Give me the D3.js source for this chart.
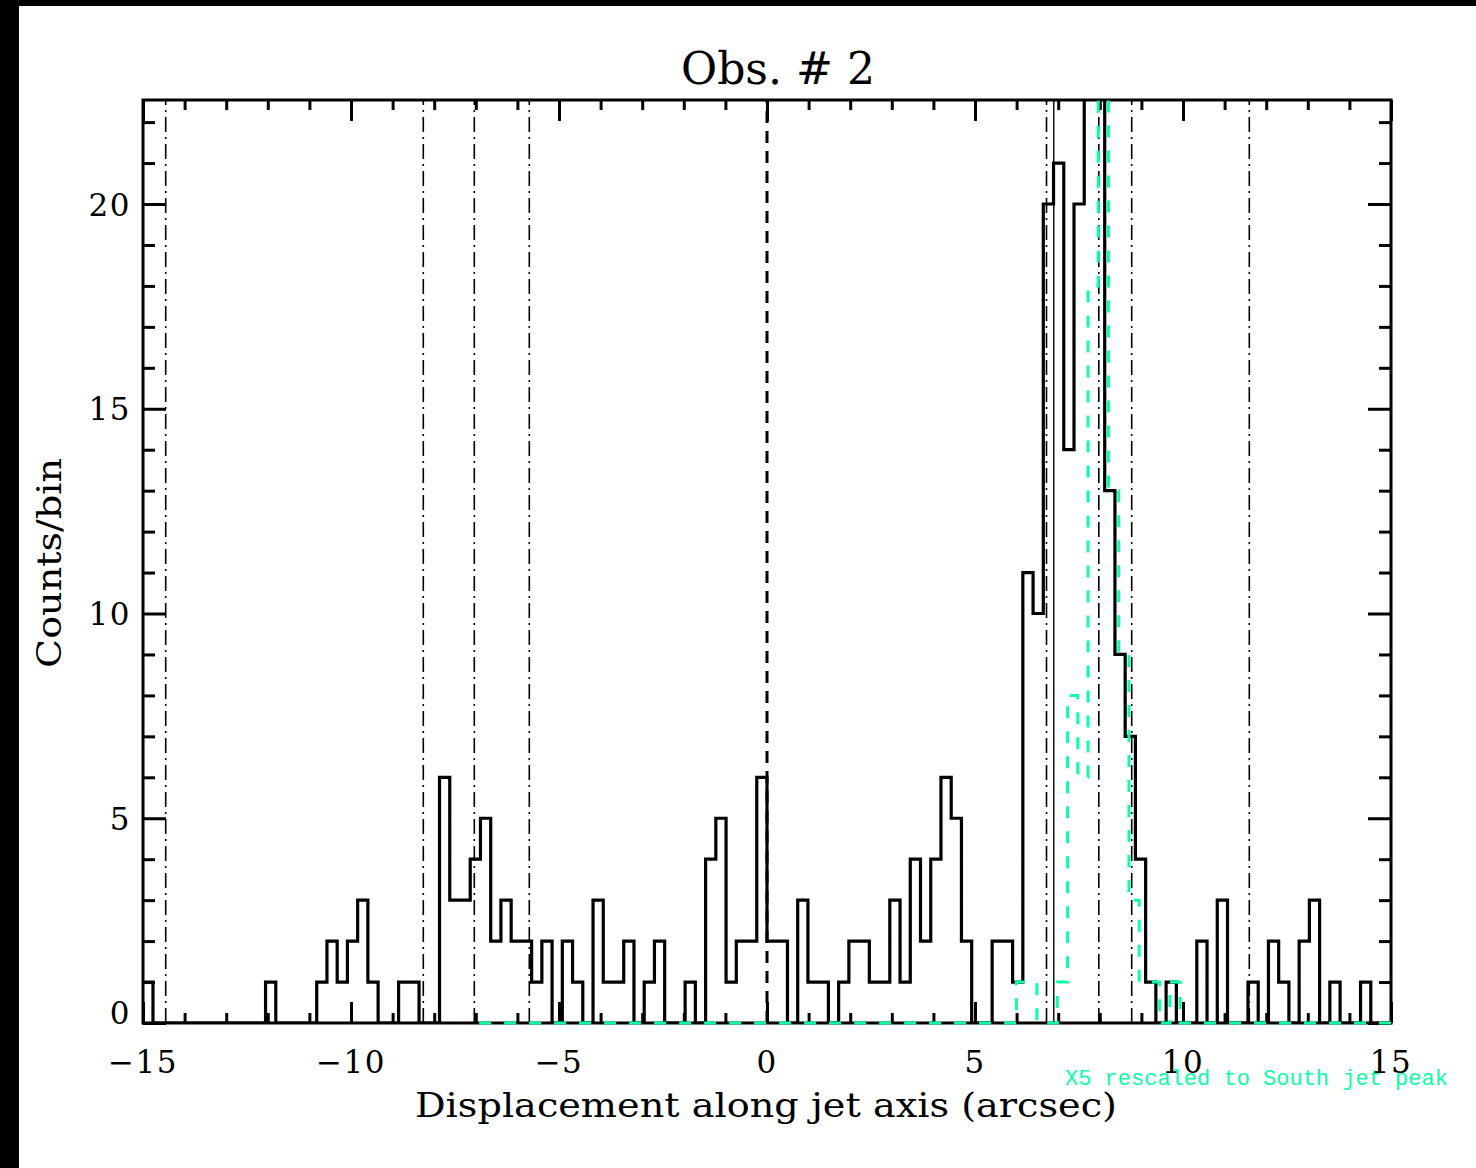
<!DOCTYPE html>
<html>
<head>
<meta charset="utf-8">
<script src="https://cdn.jsdelivr.net/npm/d3@7"></script>
<style>
  html, body { margin: 0; padding: 0; background: #fff; }
  svg { display: block; }
</style>
</head>
<body>
<svg id="chart" width="1476" height="1168"></svg>
<script>
// ---- data -------------------------------------------------------------
// Bin width along the jet axis (half an ACIS pixel), arcsec
const binWidth = 0.246;

// Observed counts per bin; first bin index (bin k spans [k*w, (k+1)*w])
const countsFirstBin = -61;
const counts = [
  1, 0, 0, 0, 0, 0, 0, 0, 0, 0, 0, 0,
  1, 0, 0, 0, 0, 1, 2, 1, 2, 3, 1, 0,
  0, 1, 1, 0, 0, 6, 3, 3, 4, 5, 2, 3,
  2, 2, 1, 2, 0, 2, 1, 0, 3, 1, 1, 2,
  0, 1, 2, 0, 0, 1, 0, 4, 5, 1, 2, 2,
  6, 2, 2, 0, 3, 1, 1, 0, 1, 2, 2, 1,
  1, 3, 1, 4, 2, 4, 6, 5, 2, 0, 0, 2,
  2, 1, 11, 10, 20, 21, 14, 20, 26, 24, 13, 9,
  7, 4, 1, 0, 1, 0, 0, 2, 0, 3, 0, 0,
  1, 0, 2, 1, 0, 2, 3, 0, 1, 0, 0, 1, 0, 0
];

// X5 profile rescaled to the South jet peak (own bin grid, shifted)
const modelFirstBin = -29;
const modelShift = 0.091;
const modelCounts = [
  0, 0, 0, 0, 0, 0, 0, 0, 0, 0, 0, 0, 0,
  0, 0, 0, 0, 0, 0, 0, 0, 0, 0, 0, 0, 0,
  0, 0, 0, 0, 0, 0, 0, 0, 0, 0, 0, 0, 0,
  0, 0, 0, 0, 0, 0, 0, 0, 0, 0, 0, 0, 0,
  0,
  1, 1, 0, 0, 1, 8, 6, 18, 25, 13, 9, 3, 1, 1, 0, 1,
  0, 0, 0, 0, 0, 0, 0, 0, 0, 0, 0,
  0, 0, 0, 0, 0, 0, 0, 0, 0, 0
];

// Reference positions along the axis (arcsec)
const coreLine = 0;
const knotLine = 6.894;
const markerLines = [-14.454, -8.262, -7.036, -5.714, 6.719, 7.976, 8.767, 11.594];

const xMajorTicks = [-15, -10, -5, 0, 5, 10, 15];
const xMinorTicks = [-14, -13, -12, -11, -9, -8, -7, -6, -4, -3, -2, -1,
                     1, 2, 3, 4, 6, 7, 8, 9, 11, 12, 13, 14];
const yMajorTicks = [0, 5, 10, 15, 20];
const yMinorTicks = [1, 2, 3, 4, 6, 7, 8, 9, 11, 12, 13, 14, 16, 17, 18, 19, 21, 22];

const titleText = "Obs. # 2";
const xLabel = "Displacement along jet axis (arcsec)";
const yLabel = "Counts/bin";
const modelLabel = "X5 rescaled to South jet peak";

// ---- layout -----------------------------------------------------------
const plot = { left: 143, top: 100, right: 1391, bottom: 1023 };
const green = "#0affa8";
const serif = "'DejaVu Serif', 'Liberation Serif', serif";

const svg = d3.select("#chart");

// dark edge strips of the page
svg.append("rect").attr("x", 0).attr("y", 0).attr("width", 19).attr("height", 1168).attr("fill", "#000");
svg.append("rect").attr("x", 0).attr("y", 0).attr("width", 1476).attr("height", 6).attr("fill", "#000");

const x = d3.scaleLinear().domain([-15, 15]).range([plot.left, plot.right]);
const y = d3.scaleLinear().domain([0, 22.54]).range([plot.bottom, plot.top]);

// clip to the plot box; the profile clip reaches slightly below so that
// runs along zero stay visible on top of the bottom axis
svg.append("clipPath").attr("id", "plotClip")
  .append("rect")
  .attr("x", plot.left).attr("y", plot.top)
  .attr("width", plot.right - plot.left).attr("height", plot.bottom - plot.top);
svg.append("clipPath").attr("id", "profileClip")
  .append("rect")
  .attr("x", plot.left).attr("y", plot.top)
  .attr("width", plot.right - plot.left).attr("height", plot.bottom - plot.top + 3);

const inner = svg.append("g").attr("clip-path", "url(#plotClip)");

// step outline in histogram mode: a horizontal run per bin, verticals at edges
function stepPoints(values, firstBin, shift, startAtCentre) {
  const pts = [];
  values.forEach((v, i) => {
    const lo = (firstBin + i) * binWidth + shift;
    const hi = lo + binWidth;
    const start = (i === 0 && startAtCentre) ? lo + binWidth / 2 : lo;
    pts.push([start, v]);
    pts.push([hi, v]);
  });
  return pts;
}

const line = d3.line().x(d => x(d[0])).y(d => y(d[1]));

// observed counts
inner.append("path")
  .attr("d", line(stepPoints(counts, countsFirstBin, 0, false)))
  .attr("fill", "none")
  .attr("stroke", "#000")
  .attr("stroke-width", 3.2)
  .attr("stroke-linejoin", "miter");

// dash-dot reference marks
inner.selectAll("line.marker")
  .data(markerLines)
  .join("line")
  .attr("class", "marker")
  .attr("x1", d => x(d)).attr("x2", d => x(d))
  .attr("y1", y(0)).attr("y2", y(22.54))
  .attr("stroke", "#000")
  .attr("stroke-width", 1.6)
  .attr("stroke-dasharray", "15,5,2,5");

// thin solid mark
inner.append("line")
  .attr("x1", x(knotLine)).attr("x2", x(knotLine))
  .attr("y1", y(0)).attr("y2", y(22.54))
  .attr("stroke", "#000")
  .attr("stroke-width", 1.4);

// core position
inner.append("line")
  .attr("x1", x(coreLine)).attr("x2", x(coreLine))
  .attr("y1", y(0)).attr("y2", y(22.54))
  .attr("stroke", "#000")
  .attr("stroke-width", 3)
  .attr("stroke-dasharray", "12,8");

// ---- axes (inward ticks on all four sides) ----------------------------
function tickAxis(axis, tickVals, len, transform) {
  const g = svg.append("g")
    .attr("transform", transform)
    .call(axis.tickValues(tickVals).tickSize(-len).tickFormat(""));
  g.select(".domain").remove();
  g.selectAll(".tick line").attr("stroke", "#000").attr("stroke-width", 3);
  return g;
}
tickAxis(d3.axisBottom(x), xMajorTicks, 21, `translate(0,${plot.bottom})`);
tickAxis(d3.axisBottom(x), xMinorTicks, 10, `translate(0,${plot.bottom})`);
tickAxis(d3.axisTop(x), xMajorTicks, 21, `translate(0,${plot.top})`);
tickAxis(d3.axisTop(x), xMinorTicks, 10, `translate(0,${plot.top})`);
tickAxis(d3.axisLeft(y), yMajorTicks, 23, `translate(${plot.left},0)`);
tickAxis(d3.axisLeft(y), yMinorTicks, 12, `translate(${plot.left},0)`);
tickAxis(d3.axisRight(y), yMajorTicks, 23, `translate(${plot.right},0)`);
tickAxis(d3.axisRight(y), yMinorTicks, 12, `translate(${plot.right},0)`);

svg.append("rect")
  .attr("x", plot.left).attr("y", plot.top)
  .attr("width", plot.right - plot.left).attr("height", plot.bottom - plot.top)
  .attr("fill", "none")
  .attr("stroke", "#000")
  .attr("stroke-width", 3);

// rescaled X5 profile, drawn last so its zero runs show over the axis
svg.append("g").attr("clip-path", "url(#profileClip)")
  .append("path")
  .attr("d", line(stepPoints(modelCounts, modelFirstBin, modelShift, true)))
  .attr("fill", "none")
  .attr("stroke", green)
  .attr("stroke-width", 3)
  .attr("stroke-dasharray", "12,13");

// tick labels
const fmt = v => (v < 0 ? "\u2212" + Math.abs(v) : String(v));
svg.append("g").selectAll("text")
  .data(xMajorTicks)
  .join("text")
  .attr("x", d => x(d))
  .attr("y", 1073)
  .attr("text-anchor", "middle")
  .attr("font-family", serif)
  .attr("font-size", 31)
  .attr("letter-spacing", 1.5)
  .attr("fill", "#000")
  .text(fmt);

svg.append("g").selectAll("text")
  .data(yMajorTicks)
  .join("text")
  .attr("x", 131)
  // the zero label is kept inside the frame
  .attr("y", d => Math.min(y(d) + 11.5, 1024))
  .attr("text-anchor", "end")
  .attr("font-family", serif)
  .attr("font-size", 31)
  .attr("letter-spacing", 1.5)
  .attr("fill", "#000")
  .text(fmt);

// title and axis titles
svg.append("text")
  .attr("x", 778).attr("y", 84)
  .attr("text-anchor", "middle")
  .attr("font-family", serif)
  .attr("font-size", 44)
  .attr("textLength", 194)
  .attr("lengthAdjust", "spacingAndGlyphs")
  .attr("fill", "#000")
  .text(titleText);

svg.append("text")
  .attr("x", 766).attr("y", 1117)
  .attr("text-anchor", "middle")
  .attr("font-family", serif)
  .attr("font-size", 33)
  .attr("textLength", 702)
  .attr("lengthAdjust", "spacingAndGlyphs")
  .attr("fill", "#000")
  .text(xLabel);

svg.append("text")
  .attr("transform", "translate(61,563) rotate(-90)")
  .attr("text-anchor", "middle")
  .attr("font-family", serif)
  .attr("font-size", 33)
  .attr("textLength", 210)
  .attr("lengthAdjust", "spacingAndGlyphs")
  .attr("fill", "#000")
  .text(yLabel);

svg.append("text")
  .attr("x", 1065).attr("y", 1085)
  .attr("font-family", "'Liberation Mono', 'DejaVu Sans Mono', monospace")
  .attr("font-size", 22)
  .attr("fill", green)
  .text(modelLabel);
</script>
</body>
</html>
